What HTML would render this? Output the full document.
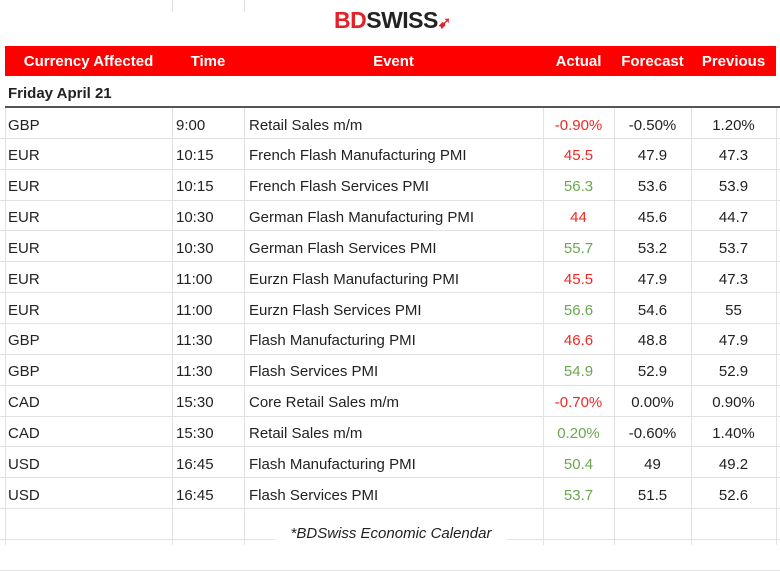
<!DOCTYPE html>
<html><head><meta charset="utf-8"><style>
body{margin:0;width:780px;height:545px;background:#fff;position:relative;overflow:hidden;font-family:"Liberation Sans",Arial,sans-serif;}
.a{position:absolute;}
.hl{position:absolute;height:1px;background:#e2e2e2;left:0;width:780px;}
.vl{position:absolute;width:1px;background:#e2e2e2;}
.c{position:absolute;font-size:15px;color:#222;line-height:31px;white-space:nowrap;}
.hdr{position:absolute;color:#fff;font-weight:bold;font-size:15px;line-height:30px;text-align:center;top:47px;}
</style></head><body>
<div class="vl" style="left:172px;top:0;height:12px"></div>
<div class="vl" style="left:244px;top:0;height:12px"></div>
<div class="a" style="left:334px;top:7px;font-weight:bold;font-size:23px;letter-spacing:-0.5px"><span style="color:#e4202a">BD</span><span style="color:#222">SWISS</span><span style="color:#e4202a;font-size:16px">➹</span></div>
<div class="a" style="left:5px;top:46px;width:771px;height:30px;background:#ff0000"></div>
<div class="hdr" style="left:5px;width:167px">Currency Affected</div>
<div class="hdr" style="left:172px;width:72px">Time</div>
<div class="hdr" style="left:244px;width:299px">Event</div>
<div class="hdr" style="left:543px;width:71px">Actual</div>
<div class="hdr" style="left:614px;width:77px">Forecast</div>
<div class="hdr" style="left:691px;width:85px">Previous</div>
<div class="c" style="left:8px;top:78px;font-weight:bold;">Friday April 21</div>
<div class="a" style="left:5px;top:106px;width:775px;height:2px;background:#555"></div>
<div id="rows"></div>
<div class="a" style="left:275px;top:520px;width:232px;height:25px;background:#fff;text-align:center;font-style:italic;font-size:15px;line-height:27px;color:#222">*BDSwiss Economic Calendar</div>
<script>
const cur=["GBP","EUR","EUR","EUR","EUR","EUR","EUR","GBP","GBP","CAD","CAD","USD","USD"];
const times=["9:00","10:15","10:15","10:30","10:30","11:00","11:00","11:30","11:30","15:30","15:30","16:45","16:45"];
const events=["Retail Sales m/m","French Flash Manufacturing PMI","French Flash Services PMI","German Flash Manufacturing PMI","German Flash Services PMI","Eurzn Flash Manufacturing PMI","Eurzn Flash Services PMI","Flash Manufacturing PMI","Flash Services PMI","Core Retail Sales m/m","Retail Sales m/m","Flash Manufacturing PMI","Flash Services PMI"];
const actual=["-0.90%","45.5","56.3","44","55.7","45.5","56.6","46.6","54.9","-0.70%","0.20%","50.4","53.7"];
const good=[0,0,1,0,1,0,1,0,1,0,1,1,1];
const forecast=["-0.50%","47.9","53.6","45.6","53.2","47.9","54.6","48.8","52.9","0.00%","-0.60%","49","51.5"];
const previous=["1.20%","47.3","53.9","44.7","53.7","47.3","55","47.9","52.9","0.90%","1.40%","49.2","52.6"];
const R=document.getElementById('rows');
const top0=108,rh=30.85;
function cell(txt,l,w,y,align,color,name){
  const d=document.createElement('div');d.className='c';
  d.style.left=l+'px';d.style.width=w+'px';d.style.top=y+'px';d.style.textAlign=align;
  if(color)d.style.color=color;d.textContent=txt;
  
  
  R.appendChild(d);
}
for(let i=0;i<=14;i++){
  const l=document.createElement('div');l.className='hl';l.style.top=(top0+rh*(i+1)-1)+'px';
  
  
  R.appendChild(l);
}
[5,172,244,543,614,691,776].forEach(x=>{
  const v=document.createElement('div');v.className='vl';v.style.left=x+'px';v.style.top='108px';v.style.height='437px';
  
  
  R.appendChild(v);
});
for(let i=0;i<cur.length;i++){
  const y=top0+rh*i+1.5;
  cell(cur[i],8,160,y,'left',null,'currency-cell');
  cell(times[i],176,66,y,'left',null,'time-cell');
  cell(events[i],249,290,y,'left',null,'event-cell');
  cell(actual[i],543,71,y,'center',good[i]?'#6aa84f':'#ee2a24','actual-cell');
  cell(forecast[i],614,77,y,'center',null,'forecast-cell');
  cell(previous[i],691,85,y,'center',null,'previous-cell');
}
</script>
</body></html>
